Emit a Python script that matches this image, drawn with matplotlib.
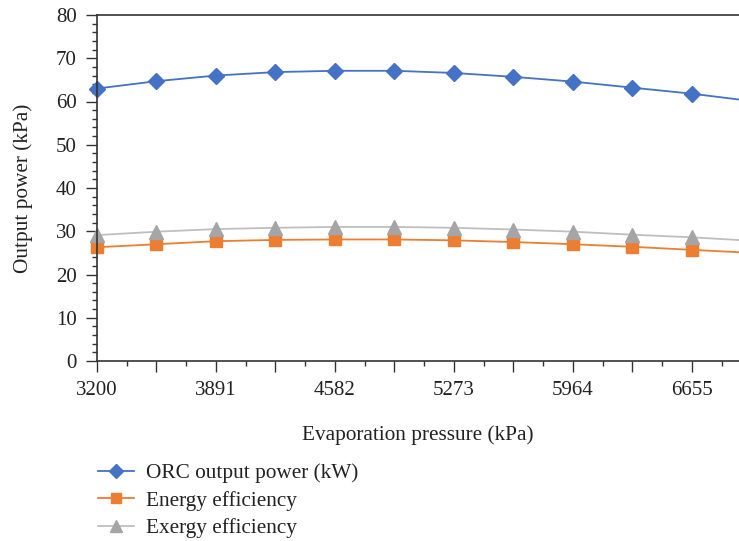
import matplotlib
matplotlib.use("Agg")
import matplotlib.pyplot as plt
from matplotlib.ticker import FixedLocator, FuncFormatter, MultipleLocator

pressure = [3200, 3545.5, 3891, 4236.5, 4582, 4927.5, 5273, 5618.5, 5964, 6309.5, 6655, 7000.5]
orc_power = [63.0, 64.7, 66.0, 66.8, 67.1, 67.1, 66.6, 65.7, 64.6, 63.2, 61.8, 60.1]
energy_eff = [26.3, 27.0, 27.7, 28.0, 28.1, 28.1, 27.9, 27.5, 27.0, 26.4, 25.7, 25.0]
exergy_eff = [29.1, 29.9, 30.5, 30.8, 31.0, 31.0, 30.8, 30.4, 29.9, 29.2, 28.6, 27.8]
x_labels = [3200, 3891, 4582, 5273, 5964, 6655]

plt.rcParams['font.family'] = ['Liberation Serif', 'DejaVu Serif']

fig = plt.figure(figsize=(7.39, 5.41), dpi=100)
ax = fig.add_axes([97/739, 1 - 361/541, 1 - 97/739, 346/541])

ax.plot(pressure, orc_power, color='#4472C4', lw=1.3, marker='D', ms=8.5,
        mec='#4472C4', label='ORC output power (kW)', clip_on=False)
ax.plot(pressure, energy_eff, color='#ED7D31', lw=1.3, marker='s', ms=9,
        mec='#ED7D31', label='Energy efficiency', clip_on=False)
ax.plot(pressure, exergy_eff, color='#BFBFBF', lw=1.3, marker='^', ms=10,
        mfc='#A5A5A5', mec='#A5A5A5', label='Exergy efficiency', clip_on=False)

ax.set_ylim(0, 80)
ax.set_xlim(3200, 6928)

major_x = pressure
minor_x = [(a + b) / 2 for a, b in zip(pressure[:-1], pressure[1:])]
ax.xaxis.set_major_locator(FixedLocator(major_x))
ax.xaxis.set_minor_locator(FixedLocator(minor_x))
ax.xaxis.set_major_formatter(FuncFormatter(
    lambda v, p: str(int(round(v))) if abs(v - round(v)) < 1e-6 and int(round(v)) in x_labels else ''))
ax.yaxis.set_major_locator(MultipleLocator(10))
ax.yaxis.set_minor_locator(MultipleLocator(2))

ax.spines['right'].set_visible(False)
for s in ['left', 'bottom', 'top']:
    ax.spines[s].set_color('#333333')
    ax.spines[s].set_linewidth(1.2)

ax.tick_params(axis='both', which='major', length=7.7, width=1.0, color='#333333',
               labelsize=15, labelcolor='#222222')
ax.tick_params(axis='both', which='minor', length=3.6, width=1.0, color='#333333')
ax.tick_params(axis='x', which='major', pad=7)
ax.tick_params(axis='y', which='major', pad=7)

ax.set_xlabel('Evaporation pressure (kPa)', fontsize=15.3, color='#222222', labelpad=18)
ax.set_ylabel('Output power (kPa)', fontsize=15.3, color='#222222', labelpad=16)

fig.legend(loc='upper left', bbox_to_anchor=(89/739, 1 - 455/541), frameon=False,
           fontsize=15.3, handlelength=1.7, labelspacing=0.35, handletextpad=0.6,
           borderaxespad=0, markerscale=0.8, labelcolor='#222222')

fig.savefig('out.png', dpi=100)
